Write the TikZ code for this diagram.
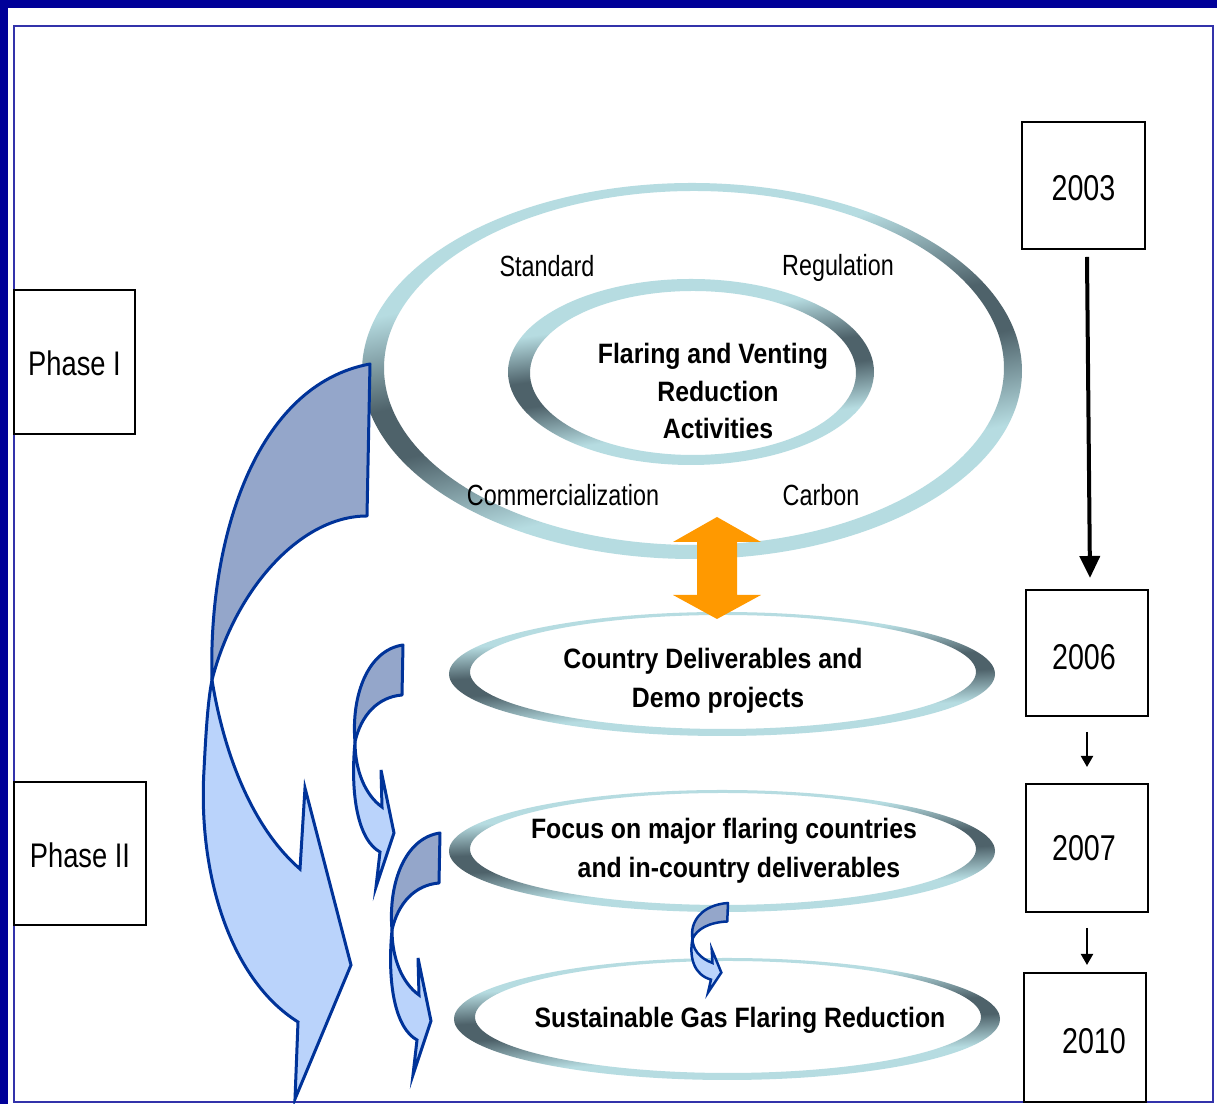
\documentclass[tikz,border=0pt]{standalone}
\usepackage{fontspec}
\newfontfamily\narr[FakeStretch=0.8]{Liberation Sans}
\newfontfamily\narbf[FakeStretch=0.885]{Liberation Sans}
\usetikzlibrary{arrows.meta}
\newdimen\px \px=0.01cm
\definecolor{frameblue}{RGB}{0,0,153}
\definecolor{linebl}{RGB}{50,50,170}
\definecolor{ringlight}{RGB}{182,220,225}
\definecolor{ringdark}{RGB}{78,98,106}
\definecolor{arrdark}{RGB}{148,166,202}
\definecolor{arrlight}{RGB}{186,211,251}
\definecolor{arredge}{RGB}{0,51,153}
\definecolor{orangearr}{RGB}{255,153,0}
\pgfdeclareverticalshading{ringshade}{100bp}{color(0bp)=(ringlight); color(36bp)=(ringlight); color(47bp)=(ringdark); color(53bp)=(ringdark); color(64bp)=(ringlight); color(100bp)=(ringlight)}
\tikzset{
  ring/.style={even odd rule, shading=ringshade, shading angle=#1},
  boxnode/.style={draw=black, line width=2\px, inner sep=0pt, font=\narr\fontsize{10.2}{12}\selectfont},
  phasebox/.style={boxnode, font=\narr\fontsize{9.7}{12}\selectfont},
  lbl/.style={inner sep=0pt, font=\narr\fontsize{8.3}{10}\selectfont},
  boldlbl/.style={inner sep=0pt, align=center, font=\narbf\bfseries\fontsize{7.97}{#1}\selectfont},
  darkpart/.style={fill=arrdark, draw=arredge, line width=3\px, line join=round},
  lightpart/.style={fill=arrlight, draw=arredge, line width=3\px, line join=miter},
  bigtip/.style={-{Triangle[length=6.26pt, width=5.7pt]}},
  smalltip/.style={-{Triangle[length=3.13pt, width=3.41pt]}},
}
\begin{document}
\begin{tikzpicture}[x=0.01cm, y=-0.01cm]
\useasboundingbox (0,0) rectangle (1217,1104);
% frame
\fill[white] (0,0) rectangle (1217,1104);
\fill[frameblue] (0,0) rectangle (1217,8);
\fill[frameblue] (0,0) rectangle (8,1104);
\draw[linebl, line width=2\px] (14,26) rectangle (1213,1102);

% rings
\shade[ring=12] (692,371) ellipse [x radius=330, y radius=188] (694,368) ellipse [x radius=310, y radius=177];
\shade[ring=8] (691,372) ellipse [x radius=183, y radius=93] (693,373) ellipse [x radius=163, y radius=82];
\shade[ring=3] (722,674) ellipse [x radius=273, y radius=62] (723,672) ellipse [x radius=253, y radius=57];
\shade[ring=3] (722,851) ellipse [x radius=273, y radius=61] (723,849) ellipse [x radius=253, y radius=56];
\shade[ring=3] (727,1019) ellipse [x radius=273, y radius=61] (728,1017) ellipse [x radius=253, y radius=56];

% ring texts
\node[lbl] (std) at (547,266) {Standard};
\node[lbl] (reg) at (838,268) {Regulation};
\node[lbl] (com) at (563,495) {Commercialization};
\node[lbl] (car) at (821,495) {Carbon};
\node[boldlbl=10.8] (fvr) at (713,391) {Flaring and Venting\\\hspace*{10\px}Reduction\\\hspace*{10\px}Activities};
\node[boldlbl=11.1] (cdd) at (713,681) {Country Deliverables and\\\hspace*{10\px}Demo projects};
\node[boldlbl=11.1] (fmf) at (724,851) {Focus on major flaring countries\\\hspace*{30\px}and in-country deliverables};
\node[boldlbl=11.1] (sgf) at (740,1020) {Sustainable Gas Flaring Reduction};

% orange double arrow
\fill[orangearr] (717,517) -- (761,542) -- (737,542) -- (737,595) -- (761,595) -- (717,619)
  -- (673,595) -- (697,595) -- (697,542) -- (673,542) -- cycle;

% big curved arrow
\filldraw[darkpart] (370,364) -- (367,516) .. controls (300,516) and (235,590) .. (212,680)
  .. controls (208,540) and (255,385) .. (370,364) -- cycle;
\filldraw[lightpart] (212,680) .. controls (225,760) and (255,830) .. (300,869) -- (305,788) -- (351,965)
  -- (295,1099) -- (298,1022) .. controls (228,978) and (198,870) .. (204,770)
  .. controls (206,730) and (208,700) .. (212,680) -- cycle;

% small curved arrows
\foreach \sx/\sy/\xs/\ys/\lw in {403/645/1/1/3, 440/833/1/1/3, 728/903/0.74/0.37/2.5}{
  \begin{scope}[shift={(\sx,\sy)}, xscale=\xs, yscale=\ys]
    \filldraw[darkpart, line width=\lw\px] (0,0) -- (-1,50) .. controls (-25,52) and (-42,70) .. (-48,97)
      .. controls (-52,50) and (-35,5) .. (0,0) -- cycle;
    \filldraw[lightpart, line width=\lw\px] (-48,97) .. controls (-48,125) and (-38,150) .. (-21,162) -- (-22,125)
      -- (-9,188) -- (-27,242) -- (-23,207) .. controls (-45,195) and (-53,150) .. (-48,97) -- cycle;
  \end{scope}
}

% phase boxes
\node[phasebox, minimum width=121\px, minimum height=144\px] (ph1) at (74.5,362) {\raisebox{-1\px}[\height][0pt]{Phase I}};
\node[phasebox, minimum width=132\px, minimum height=143\px] (ph2) at (80,853.5) {\raisebox{-2\px}[\height][0pt]{Phase II}};

% year boxes
\node[boxnode, minimum width=123\px, minimum height=127\px] (y2003) at (1083.5,185.5) {\raisebox{-2\px}[\height][0pt]{2003}};
\node[boxnode, minimum width=122\px, minimum height=126\px] (y2006) at (1087,653) {\raisebox{-4\px}[\height][0pt]{2006}\hspace*{6\px}};
\node[boxnode, minimum width=122\px, minimum height=128\px] (y2007) at (1087,848) {2007\hspace*{6\px}};
\node[boxnode, minimum width=122\px, minimum height=129\px] (y2010) at (1085,1037.5) {\hspace*{18\px}\raisebox{-3\px}[\height][0pt]{2010}};

% timeline arrows
\draw[line width=4\px, bigtip]
  ([xshift=3.5\px, yshift=-7\px]y2003.south) -- ([xshift=3\px, yshift=11\px]y2006.north);
\draw[line width=2\px, smalltip]
  ([yshift=-15\px]y2006.south) -- ([yshift=16\px]y2007.north);
\draw[line width=2\px, smalltip]
  ([yshift=-15\px]y2007.south) -- ([xshift=2\px, yshift=7\px]y2010.north);
\end{tikzpicture}
\end{document}
